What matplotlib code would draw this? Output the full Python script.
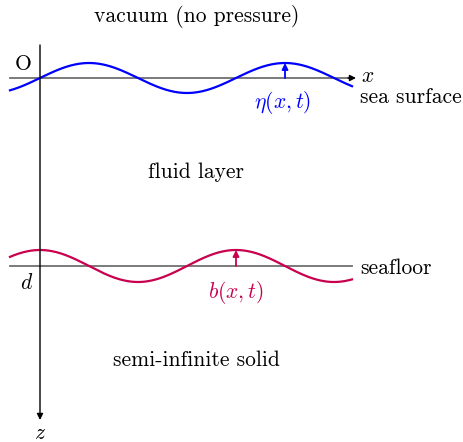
import numpy as np
import matplotlib
matplotlib.use("Agg")
import matplotlib.pyplot as plt

plt.rcParams["font.family"] = "serif"
plt.rcParams["font.serif"] = ["cmr10"]
plt.rcParams["mathtext.fontset"] = "cm"

# geometry of the sketch (drawing units, z grows downward)
x_left, x_right = 10, 352
x_origin = 40
z_surface = 78
z_floor = 266
z_bottom = 420
wavelength = 196
amp_surface = 15
amp_floor = 16

surface_color = "#0000ff"
floor_color = "#c8004e"
line_gray = "#707070"

x = np.linspace(x_left, x_right, 400)
eta = amp_surface * np.sin(2 * np.pi * (x - x_origin) / wavelength)
b = amp_floor * np.cos(2 * np.pi * (x - x_origin) / wavelength)
x_eta_peak = x_origin + wavelength * 1.25
x_b_peak = x_origin + wavelength

fig = plt.figure(figsize=(4.63, 4.42), dpi=100)
ax = fig.add_axes([0, 0, 1, 1])
ax.set_xlim(0, 463)
ax.set_ylim(442, 0)
ax.axis("off")

# x axis (sea surface) and seafloor reference line
ax.plot([x_left, x_right], [z_surface, z_surface], color=line_gray, lw=1.3)
ax.annotate("", xy=(x_right + 4, z_surface), xytext=(x_right - 4, z_surface),
            arrowprops=dict(arrowstyle="-|>", color="black", lw=1.0,
                            mutation_scale=9, shrinkA=0, shrinkB=0))
ax.plot([x_left, x_right], [z_floor, z_floor], color=line_gray, lw=1.3)

# z axis
ax.annotate("", xy=(x_origin, z_bottom), xytext=(x_origin, 45),
            arrowprops=dict(arrowstyle="-|>", color="black", lw=1.0,
                            mutation_scale=9, shrinkA=0, shrinkB=0))

# waves
ax.plot(x, z_surface - eta, color=surface_color, lw=1.6)
ax.plot(x, z_floor - b, color=floor_color, lw=1.6)

# displacement arrows
ax.annotate("", xy=(x_eta_peak, z_surface - amp_surface), xytext=(x_eta_peak, z_surface),
            arrowprops=dict(arrowstyle="-|>", color=surface_color, lw=1.3,
                            mutation_scale=9, shrinkA=0, shrinkB=0))
ax.annotate("", xy=(x_b_peak, z_floor - amp_floor), xytext=(x_b_peak, z_floor),
            arrowprops=dict(arrowstyle="-|>", color=floor_color, lw=1.3,
                            mutation_scale=9, shrinkA=0, shrinkB=0))

fs = 15.5
ax.text(197, 17, "vacuum (no pressure)", fontsize=fs, ha="center", va="center")
ax.text(23, 64, "O", fontsize=fs, ha="center", va="center")
ax.text(361, 76, r"$x$", fontsize=fs, ha="left", va="center")
ax.text(360, 97, "sea surface", fontsize=fs, ha="left", va="center")
ax.text(x_eta_peak - 2, 102, r"$\eta(x,t)$", fontsize=fs, ha="center", va="center",
        color=surface_color)
ax.text(196, 172, "fluid layer", fontsize=fs, ha="center", va="center")
ax.text(360, 268, "seafloor", fontsize=fs, ha="left", va="center")
ax.text(27, 283, r"$d$", fontsize=fs, ha="center", va="center")
ax.text(x_b_peak, 292, r"$b(x,t)$", fontsize=fs, ha="center", va="center",
        color=floor_color)
ax.text(196, 360, "semi-infinite solid", fontsize=fs, ha="center", va="center")
ax.text(x_origin, 433, r"$z$", fontsize=fs, ha="center", va="center")

fig.savefig("out.png", dpi=100)
